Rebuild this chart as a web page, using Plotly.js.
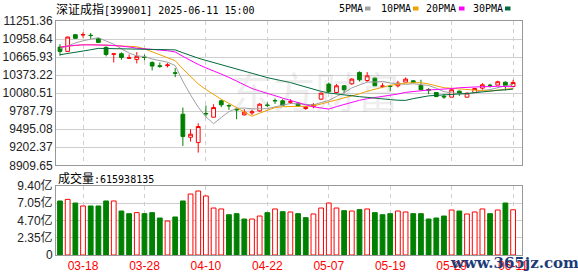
<!DOCTYPE html>
<html><head><meta charset="utf-8">
<script src="https://cdn.plot.ly/plotly-3.0.1.min.js"></script>
<style>html,body{margin:0;padding:0;background:#fff;}#chart{width:578px;height:276px;}</style>
</head><body><div id="chart"></div>
<script>
const dates = ['03-13','03-14','03-17','03-18','03-19','03-20','03-21','03-24','03-25','03-26','03-27','03-28','03-31','04-01','04-02','04-03','04-07','04-08','04-09','04-10','04-11','04-14','04-15','04-16','04-17','04-18','04-21','04-22','04-23','04-24','04-25','04-28','04-29','04-30','05-06','05-07','05-08','05-09','05-12','05-13','05-14','05-15','05-16','05-19','05-20','05-21','05-22','05-23','05-26','05-27','05-28','05-29','05-30','06-03','06-04','06-05','06-06','06-09','06-10','06-11'];
const openP = [10828,10758,11029,11025,11020,10964,10823,10712,10720,10645,10628,10666,10579,10525,10527,10410,9739,9365,9278,9750,9690,9956,9880,9815,9728,9760,9793,9888,9961,9956,9934,9918,9831,9863,9983,10227,10091,10200,10232,10417,10286,10324,10190,10194,10200,10259,10281,10205,10140,10091,10030,10015,10113,10015,10091,10162,10210,10211,10259,10189];
const highP = [10877,10995,11035,11067,11056,10975,10839,10731,10742,10709,10747,10704,10596,10579,10568,10487,9847,9495,9593,9880,9901,9972,9901,9837,9820,9810,9918,9929,9994,9983,9983,9929,9874,9918,10091,10254,10227,10211,10324,10433,10422,10335,10243,10216,10281,10335,10292,10297,10162,10091,10064,10146,10124,10091,10162,10243,10232,10281,10270,10297];
const lowP = [10688,10750,10965,10980,10960,10893,10677,10579,10622,10639,10563,10612,10449,10492,10498,10340,9224,9295,9116,9701,9690,9853,9810,9658,9717,9728,9777,9853,9907,9874,9907,9863,9809,9836,9972,10080,10080,10080,10216,10270,10259,10200,10162,10108,10173,10259,10243,10135,10064,10015,9988,10015,10037,10015,10080,10135,10173,10211,10124,10189];
const closeP = [10758,10991,10970,11030,11015,10904,10709,10718,10660,10655,10677,10660,10520,10515,10538,10405,9376,9414,9539,9745,9847,9891,9875,9810,9772,9777,9901,9882,9956,9885,9940,9874,9853,9896,10080,10108,10200,10135,10308,10297,10362,10200,10196,10189,10243,10308,10254,10135,10130,10026,10020,10135,10075,10080,10156,10216,10205,10265,10205,10254];
const ma5 = [10800,10850,10895,10930,10953,10982,10926,10875,10801,10731,10685,10675,10635,10609,10583,10529,10272,10052,9853,9696,9584,9687,9779,9834,9839,9825,9827,9828,9858,9880,9913,9907,9902,9890,9929,9962,10027,10084,10166,10210,10260,10261,10270,10245,10234,10223,10233,10216,10205,10160,10105,10085,10075,10063,10088,10125,10138,10175,10200,10220];
const ma10 = [10830,10845,10855,10866,10870,10866,10860,10855,10850,10842,10834,10800,10755,10705,10657,10607,10474,10344,10231,10140,10057,9980,9916,9844,9768,9705,9757,9804,9846,9860,9869,9867,9865,9874,9905,9938,9967,9993,10028,10070,10111,10144,10180,10208,10224,10244,10250,10250,10230,10203,10168,10160,10147,10137,10128,10120,10115,10128,10135,10158];
const ma20 = [10828,10845,10858,10864,10866,10864,10860,10855,10845,10830,10810,10796,10788,10780,10769,10749,10678,10609,10546,10491,10446,10390,10336,10275,10213,10156,10116,10074,10039,10000,9963,9924,9891,9859,9837,9822,9862,9899,9937,9965,9990,10006,10024,10043,10066,10093,10110,10123,10132,10139,10143,10156,10168,10177,10180,10186,10186,10193,10187,10185];
const ma30 = [10704,10720,10742,10764,10785,10807,10805,10803,10801,10800,10799,10798,10797,10796,10795,10783,10736,10690,10648,10612,10576,10540,10504,10468,10432,10397,10365,10333,10305,10280,10253,10216,10179,10141,10110,10083,10066,10047,10035,10023,10012,9997,9987,9976,9966,9963,9992,10016,10036,10045,10051,10059,10066,10075,10088,10103,10113,10126,10134,10146];
const volume = [7.36,7.58,7.08,6.68,6.68,6.68,7.36,7.36,5.99,5.63,5.77,5.63,5.77,5.04,4.63,5.18,7.36,8.31,8.72,8.04,6.40,6.27,5.49,5.63,4.90,4.90,5.31,5.77,6.27,5.90,5.86,5.63,5.09,5.59,6.40,7.08,6.40,6.04,5.99,6.18,6.27,5.77,5.49,5.63,5.99,5.86,5.63,5.63,4.90,5.04,5.31,6.13,5.99,5.59,5.86,6.27,5.63,6.13,7.08,6.16];
const volUp = [0,1,0,1,0,0,0,1,0,0,1,0,0,0,1,0,0,1,1,1,1,1,0,0,0,1,1,0,1,0,1,0,0,1,1,1,1,0,1,0,1,0,0,0,1,1,0,0,0,0,0,1,0,1,1,1,0,1,0,1];
const priceTicks = [8909.65,9202.37,9495.08,9787.79,10080.51,10373.22,10665.93,10958.64,11251.36];
const volTicks = [0,2.35,4.70,7.05,9.40];
const volTickText = ['0','2.35亿','4.70亿','7.05亿','9.40亿'];
const dateTicks = ['03-18','03-28','04-10','04-22','05-07','05-19','05-29','06-11'];
const chartTitle = '深证成指[399001] 2025-06-11 15:00';
const volTitle = '成交量:615938135';
const maNames = ['5PMA','10PMA','20PMA','30PMA'];
const maColors = ['#a0a0a0','#f0a000','#ff00ff','#006a3c'];

const RED='#ff0000', GREEN='#008000';
const L=56, R=56, T=21, B=21, W=578, H=276;
const pw=W-L-R, ph=H-T-B;
const px = x => (x-L)/pw;
const py = y => (H-B-y)/ph;

const traces = [];
traces.push({type:'candlestick', x:dates, open:openP, high:highP, low:lowP, close:closeP,
  xaxis:'x', yaxis:'y', whiskerwidth:0, hoverinfo:'skip',
  increasing:{line:{color:RED,width:1}, fillcolor:'#ffffff'},
  decreasing:{line:{color:GREEN,width:1}, fillcolor:GREEN}});
[ma5,ma10,ma20,ma30].forEach((m,i)=>traces.push({type:'scatter',mode:'lines',x:dates,y:m,xaxis:'x',yaxis:'y',
  line:{color:maColors[i],width:1},hoverinfo:'skip'}));
traces.push({type:'bar', x:dates, y:volume, xaxis:'x2', yaxis:'y2', width:0.62,
  marker:{color:volUp.map(u=>u?'#ffffff':GREEN), line:{color:volUp.map(u=>u?RED:GREEN), width:1}}, hoverinfo:'skip'});

const xr=[-0.52,60.16];
const gridC='#cfcfcf';
const layout = {
  width:W, height:H, margin:{l:L,r:R,t:T,b:B}, paper_bgcolor:'#fff', plot_bgcolor:'#fff', showlegend:false,
  xaxis:{type:'category', range:xr, anchor:'y', tickvals:dateTicks, showticklabels:false, ticks:'',
    showgrid:true, gridcolor:gridC, griddash:'4px,4px', showline:true, mirror:true, linecolor:'#999', linewidth:1,
    rangeslider:{visible:false}, zeroline:false, fixedrange:true},
  yaxis:{domain:[py(165.3),1], range:[priceTicks[0],priceTicks[8]], tickvals:priceTicks, ticktext:priceTicks.map(v=>v.toFixed(2)),
    ticks:'', showgrid:true, gridcolor:gridC, showline:true, mirror:true, linecolor:'#999', linewidth:1, zeroline:false,
    tickfont:{family:'Liberation Sans, Arial', size:12, color:'#222'}},
  xaxis2:{type:'category', range:xr, anchor:'y2', tickvals:dateTicks, ticks:'',
    showgrid:true, gridcolor:gridC, griddash:'4px,4px', showline:true, mirror:true, linecolor:'#999', linewidth:1,
    zeroline:false, tickfont:{family:'Liberation Sans, Arial', size:12, color:RED}},
  yaxis2:{domain:[0,py(186)], range:[0,9.40], tickvals:volTicks, ticktext:volTickText, ticks:'',
    showgrid:true, gridcolor:gridC, showline:true, mirror:true, linecolor:'#999', linewidth:1, zeroline:false,
    tickfont:{family:'Liberation Sans, Noto Sans CJK SC', size:12, color:'#222'}},
  annotations:[], shapes:[]
};
const A = layout.annotations;
A.push({xref:'paper',yref:'paper',x:px(54),y:py(9),xanchor:'left',yanchor:'middle',showarrow:false,
  text:'深证成指<span style="font-family:DejaVu Sans Mono;font-size:10px">[399001] 2025-06-11 15:00</span>',
  font:{family:'Noto Sans CJK SC',size:12,color:'#000'}});
const legX=[338,380,425,472], sqX=[365,413,459,505];
maNames.forEach((n,i)=>{
  A.push({xref:'paper',yref:'paper',x:px(legX[i]-1),y:py(9),xanchor:'left',yanchor:'middle',showarrow:false,
    text:n,font:{family:'DejaVu Sans Mono',size:10,color:'#000'}});
  layout.shapes.push({type:'rect',xref:'paper',yref:'paper',x0:px(sqX[i]),x1:px(sqX[i]+5.5),y0:py(10.5),y1:py(6.5),
    fillcolor:maColors[i],line:{width:0}});
});
A.push({xref:'paper',yref:'paper',x:px(56),y:py(177),xanchor:'left',yanchor:'middle',showarrow:false,
  text:'成交量<span style="font-family:DejaVu Sans Mono;font-size:10px">:615938135</span>',
  font:{family:'Noto Sans CJK SC',size:12,color:'#000'}});
A.push({xref:'paper',yref:'paper',x:px(315),y:py(90),xanchor:'center',yanchor:'middle',showarrow:false,
  text:'东方财富',font:{family:'Noto Sans CJK SC',size:42,color:'rgba(150,150,150,0.18)'}});
A.push({xref:'paper',yref:'paper',x:px(514),y:py(263),xanchor:'center',yanchor:'middle',showarrow:false,
  text:'www.365jz.com',font:{family:'DejaVu Serif',size:15,color:'#1d3b78',weight:'bold'}});

Plotly.newPlot('chart', traces, layout, {staticPlot:true, displayModeBar:false});
</script></body></html>
